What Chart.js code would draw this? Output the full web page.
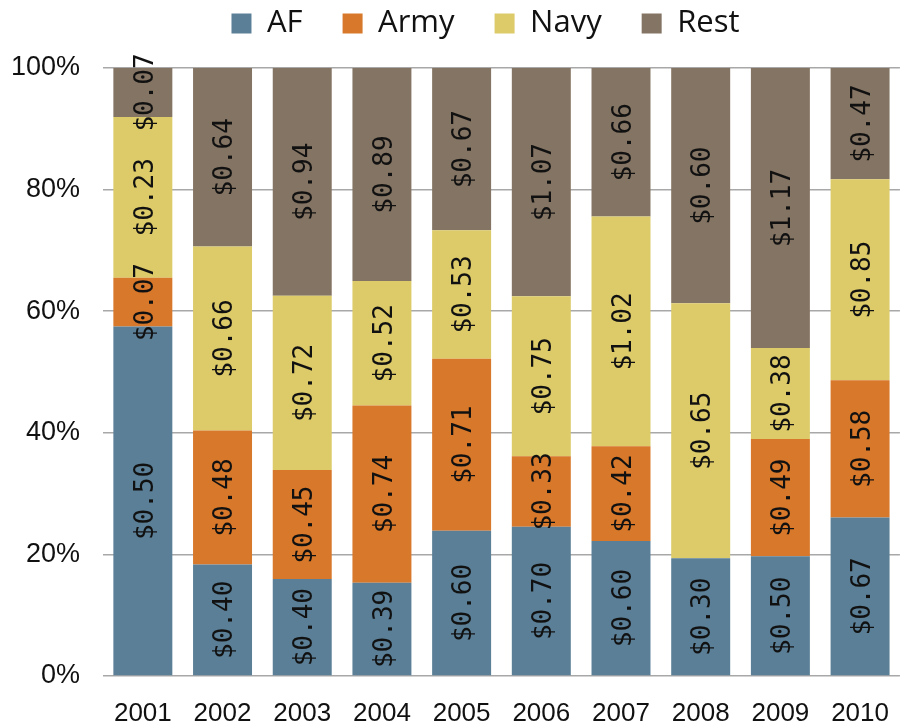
<!DOCTYPE html>
<html>
<head>
<meta charset="utf-8">
<script src="https://cdn.jsdelivr.net/npm/chart.js@4/dist/chart.umd.min.js"></script>
<style>
  html, body { margin: 0; padding: 0; background: #fff; overflow: hidden; }
  #wrap { width: 911px; height: 728px; }
</style>
</head>
<body>
<div id="wrap"><canvas id="chart"></canvas></div>
<script>
// spending per service, dollars (labels on the bars); bars show share of the year total
const years = ['2001', '2002', '2003', '2004', '2005', '2006', '2007', '2008', '2009', '2010'];
const af    = [0.50, 0.40, 0.40, 0.39, 0.60, 0.70, 0.60, 0.30, 0.50, 0.67];
const army  = [0.07, 0.48, 0.45, 0.74, 0.71, 0.33, 0.42, 0.00, 0.49, 0.58];
const navy  = [0.23, 0.66, 0.72, 0.52, 0.53, 0.75, 1.02, 0.65, 0.38, 0.85];
const rest  = [0.07, 0.64, 0.94, 0.89, 0.67, 1.07, 0.66, 0.60, 1.17, 0.47];
const yTicks = [0, 20, 40, 60, 80, 100];

const series = [
  { label: 'AF',   values: af,   color: '#5a7f96' },
  { label: 'Army', values: army, color: '#d8782a' },
  { label: 'Navy', values: navy, color: '#dccb68' },
  { label: 'Rest', values: rest, color: '#847463' }
];

const totals = years.map((_, i) => series.reduce((s, d) => s + d.values[i], 0));

// value labels, rotated, centred in each segment
const valueLabels = {
  id: 'valueLabels',
  afterDatasetsDraw(chart) {
    const ctx = chart.ctx;
    ctx.save();
    ctx.font = '26px "DejaVu Sans Mono"';
    ctx.fillStyle = '#111';
    ctx.textAlign = 'center';
    ctx.textBaseline = 'middle';
    chart.data.datasets.forEach((ds, i) => {
      chart.getDatasetMeta(i).data.forEach((bar, j) => {
        const v = series[i].values[j];
        if (!v) return;
        const p = bar.getProps(['x', 'y', 'base'], true);
        ctx.save();
        ctx.translate(p.x + 3, (p.y + p.base) / 2);
        ctx.rotate(-Math.PI / 2);
        ctx.fillText('$' + v.toFixed(2), 0, 0);
        ctx.restore();
      });
    });
    ctx.restore();
  }
};

// nudge the legend: it sits over the plot, not the canvas
const legendShift = {
  id: 'legendShift',
  afterLayout(chart) {
    chart.legend.left += 60;
    chart.legend.top -= 32;
  }
};

new Chart(document.getElementById('chart'), {
  type: 'bar',
  data: {
    labels: years,
    datasets: series.map(s => ({
      label: s.label,
      data: s.values.map((v, i) => v / totals[i] * 100),
      backgroundColor: s.color,
      borderWidth: 0,
      barPercentage: 0.74,
      categoryPercentage: 1
    }))
  },
  options: {
    responsive: true,
    maintainAspectRatio: false,
    animation: false,
    layout: { padding: 0 },
    plugins: {
      legend: {
        position: 'top',
        maxHeight: 68,
        labels: {
          boxWidth: 20,
          boxHeight: 20,
          padding: 40,
          color: '#111',
          font: { family: '"Open Sans"', size: 31 }
        }
      },
      tooltip: { enabled: false }
    },
    scales: {
      x: {
        stacked: true,
        afterFit(scale) { scale.height = 52; },
        grid: { display: false, drawTicks: false },
        border: { display: false },
        ticks: { color: '#111', padding: 22, maxRotation: 0, font: { family: '"Liberation Sans"', size: 26 } }
      },
      y: {
        stacked: true,
        min: 0,
        max: 100,
        afterFit(scale) { scale.width = 103; },
        afterBuildTicks(scale) { scale.ticks = yTicks.map(v => ({ value: v })); },
        grid: { color: '#a8a8a8', lineWidth: 1.5, drawTicks: false },
        border: { display: false },
        ticks: {
          color: '#111',
          padding: 23,
          font: { family: '"Liberation Sans"', size: 27 },
          callback: v => v + '%'
        }
      }
    }
  },
  plugins: [valueLabels, legendShift]
});
</script>
</body>
</html>
